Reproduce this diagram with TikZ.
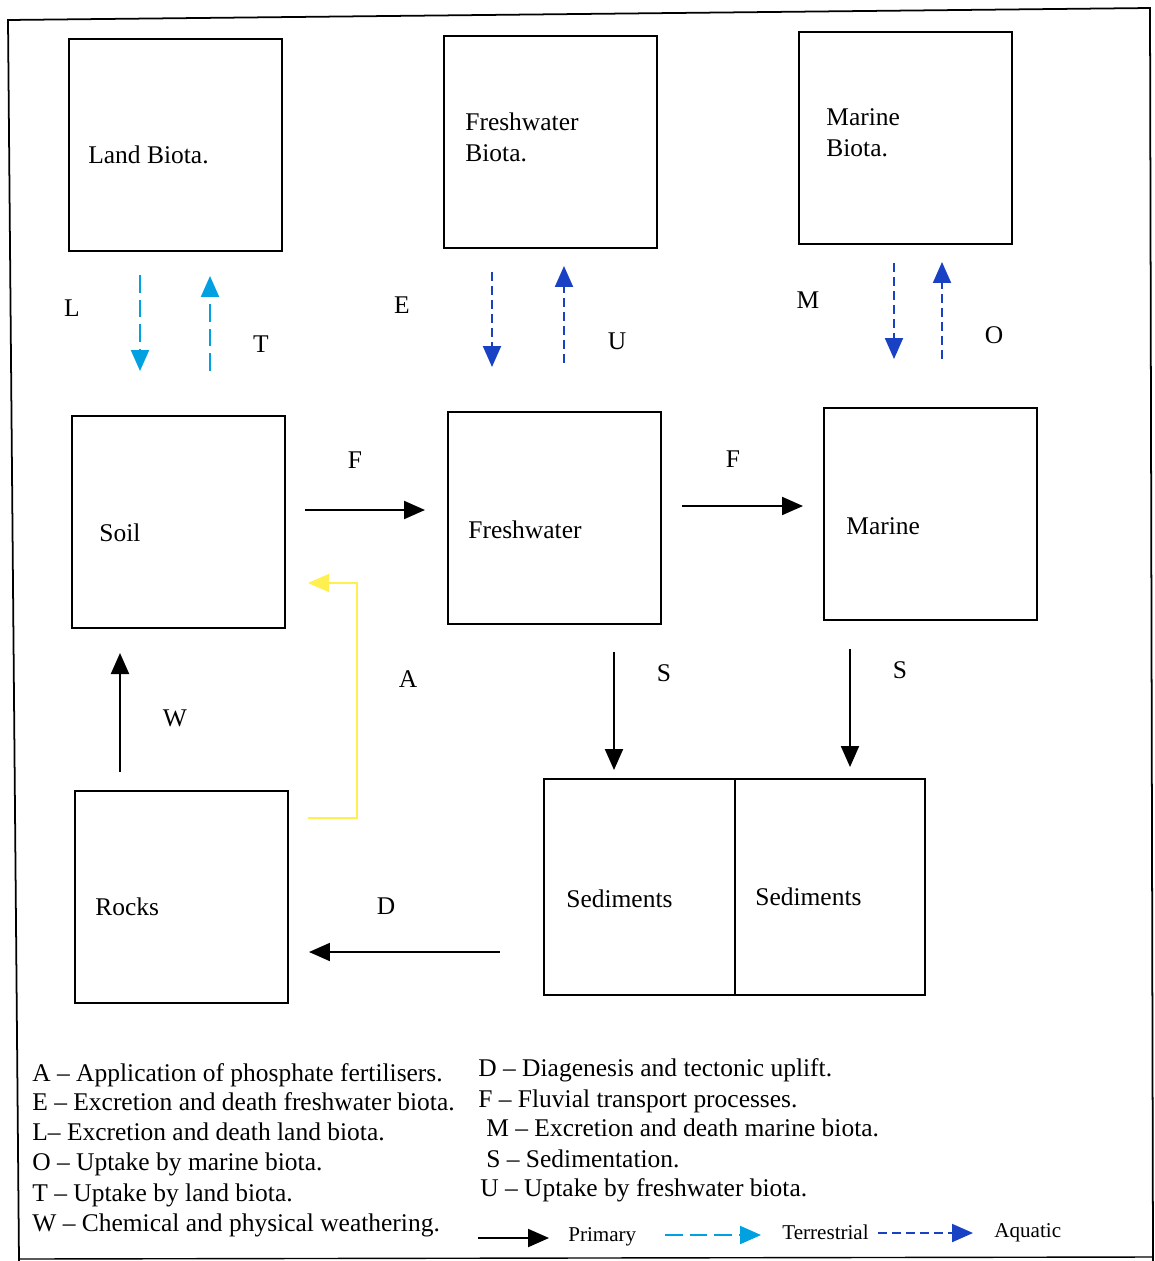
\documentclass[tikz,border=0pt]{standalone}
\usepackage{fontspec}
\setmainfont{Liberation Serif}
\usetikzlibrary{arrows.meta,positioning}

\definecolor{terrblue}{RGB}{0,160,225}
\definecolor{aquablue}{RGB}{25,65,195}
\definecolor{fertyellow}{RGB}{255,240,80}

\tikzset{
  pool/.style={draw, line width=1.4pt, anchor=north west, inner sep=0pt,
    minimum width=4.26cm, minimum height=4.24cm},
  pooltext/.style={anchor=west, align=left, inner sep=0pt,
    font=\fontsize{14.5}{17.5}\selectfont},
  flow/.style={-{Triangle[length=0.42cm,width=0.36cm]}, line width=1.2pt},
  terrflow/.style={flow, terrblue, dash pattern=on 10pt off 4pt},
  aquaflow/.style={flow, aquablue, dash pattern=on 5pt off 3pt},
  fertflow/.style={flow, fertyellow, line width=1pt},
  letter/.style={inner sep=0pt, font=\fontsize{14.5}{16}\selectfont},
  key/.style={anchor=west, inner sep=0pt, text height=1.6ex, text depth=.4ex,
    font=\fontsize{14.5}{16}\selectfont},
  keyword/.style={key, font=\fontsize{12}{14}\selectfont},
}

\begin{document}
\begin{tikzpicture}[x=0.02cm, y=-0.02cm]
  \useasboundingbox (0,0) rectangle (1154,1261);
  % frame of the scan
  \draw[line width=1pt] (19,1261) -- (8,20) -- (1150,8) -- (1153,1261);
  \draw[line width=0.8pt] (19,1259) -- (1153,1257);

  % pools
  \node[pool] (landbio) at (68,38) {};
  \node[pool] (freshbio) at (443,35) {};
  \node[pool] (marbio) at (798,31) {};
  \node[pool] (soil) at (71,415) {};
  \node[pool] (fresh) at (447,411) {};
  \node[pool] (marine) at (823,407) {};
  \node[pool] (rocks) at (74,790) {};
  \node[pool, minimum width=3.82cm, minimum height=4.32cm] (sedfresh) at (543,778) {};
  \node[pool, minimum width=3.80cm, minimum height=4.32cm] (sedmar) at (734,778) {};

  \node[pooltext] (landbiotxt) at (88,155) {Land Biota.};
  \node[pooltext] (freshbiotxt) at (465,137) {Freshwater\\Biota.};
  \node[pooltext] (marbiotxt) at (826,133) {Marine\\Biota.};
  \node[pooltext] (soiltxt) at (99,533) {Soil};
  \node[pooltext] (freshtxt) at (468,530) {Freshwater};
  \node[pooltext] (marinetxt) at (846,526) {Marine};
  \node[pooltext] (rockstxt) at (95,907) {Rocks};
  \node[pooltext] (sedfreshtxt) at (566,899) {Sediments};
  \node[pooltext] (sedmartxt) at (755,897) {Sediments};

  % arrow ends
  \coordinate (l1) at (140,275); \coordinate (l2) at (140,371);
  \coordinate (t1) at (210,371); \coordinate (t2) at (210,276);
  \coordinate (e1) at (492,272); \coordinate (e2) at (492,367);
  \coordinate (u1) at (564,363); \coordinate (u2) at (564,266);
  \coordinate (m1) at (894,263); \coordinate (m2) at (894,359);
  \coordinate (o1) at (942,359); \coordinate (o2) at (942,262);
  \coordinate (f1) at (305,510); \coordinate (f2) at (425,510);
  \coordinate (f3) at (682,506); \coordinate (f4) at (803,506);
  \coordinate (s1) at (614,652); \coordinate (s2) at (614,770);
  \coordinate (s3) at (850,649); \coordinate (s4) at (850,767);
  \coordinate (w1) at (120,772); \coordinate (w2) at (120,653);
  \coordinate (d1) at (500,952); \coordinate (d2) at (309,952);
  \coordinate (a1) at (308,818); \coordinate (a2) at (357,818);
  \coordinate (a3) at (357,583); \coordinate (a4) at (308,583);

  % fluxes
  \draw[terrflow] (l1) -- (l2);
  \draw[terrflow] (t1) -- (t2);
  \draw[aquaflow] (e1) -- (e2);
  \draw[aquaflow] (u1) -- (u2);
  \draw[aquaflow] (m1) -- (m2);
  \draw[aquaflow] (o1) -- (o2);
  \draw[flow] (f1) -- (f2);
  \draw[flow] (f3) -- (f4);
  \draw[flow] (s1) -- (s2);
  \draw[flow] (s3) -- (s4);
  \draw[flow] (w1) -- (w2);
  \draw[flow] (d1) -- (d2);
  \draw[fertflow] (a1) -- (a2) -- (a3) -- (a4);

  \node[letter] (lL) at (72,308) {L};
  \node[letter] (lT) at (261,344) {T};
  \node[letter] (lE) at (402,305) {E};
  \node[letter] (lU) at (617,341) {U};
  \node[letter] (lM) at (808,300) {M};
  \node[letter] (lO) at (994,335) {O};
  \node[letter] (lF1) at (355,460) {F};
  \node[letter] (lF2) at (733,459) {F};
  \node[letter] (lS1) at (664,673) {S};
  \node[letter] (lS2) at (900,670) {S};
  \node[letter] (lW) at (175,718) {W};
  \node[letter] (lA) at (408,679) {A};
  \node[letter] (lD) at (386,906) {D};

  % key
  \node[key] (kA) at (32,1077) {A -- Application of phosphate fertilisers.};
  \node[key] (kE) at (32,1106) {E -- Excretion and death freshwater biota.};
  \node[key] (kL) at (32,1136) {L-- Excretion and death land biota.};
  \node[key] (kO) at (32,1166) {O -- Uptake by marine biota.};
  \node[key] (kT) at (32,1197) {T -- Uptake by land biota.};
  \node[key] (kW) at (32,1227) {W -- Chemical and physical weathering.};
  \node[key] (kD) at (478,1072) {D -- Diagenesis and tectonic uplift.};
  \node[key] (kF) at (478,1103) {F -- Fluvial transport processes.};
  \node[key] (kM) at (486,1132) {M -- Excretion and death marine biota.};
  \node[key] (kS) at (486,1163) {S -- Sedimentation.};
  \node[key] (kU) at (480,1192) {U -- Uptake by freshwater biota.};

  \coordinate (p1) at (478,1238); \coordinate (p2) at (549,1238);
  \coordinate (q1) at (665,1235); \coordinate (q2) at (761,1235);
  \coordinate (r1) at (878,1233); \coordinate (r2) at (973,1233);
  \draw[flow] (p1) -- (p2);
  \draw[terrflow] (q1) -- (q2);
  \draw[aquaflow] (r1) -- (r2);
  \node[keyword] (kprim) at (568,1237) {Primary};
  \node[keyword] (kterr) at (782,1235) {Terrestrial};
  \node[keyword] (kaqua) at (994,1233) {Aquatic};
\end{tikzpicture}
\end{document}
